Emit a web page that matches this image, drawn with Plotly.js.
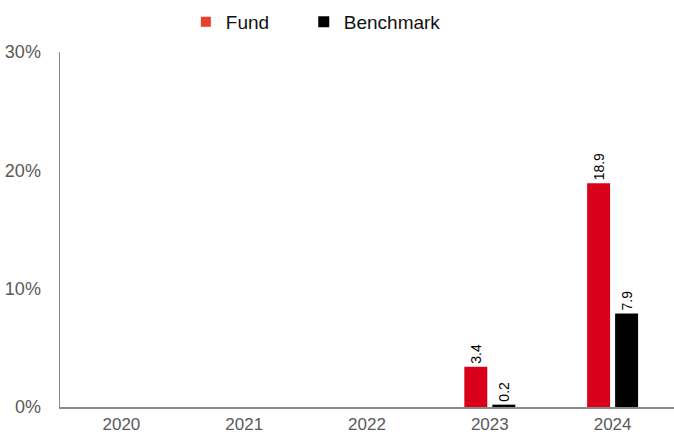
<!DOCTYPE html>
<html><head><meta charset="utf-8">
<script src="https://cdn.plot.ly/plotly-3.0.1.min.js"></script>
<style>body{margin:0;background:#fff}#c{width:674px;height:436px}</style>
</head><body><div id="c"></div>
<script>
const years = ['2020','2021','2022','2023','2024'];
const fund = [null, null, null, 3.4, 18.9];
const benchmark = [null, null, null, 0.2, 7.9];
const fundLabels = ['', '', '', '3.4', '18.9'];
const benchLabels = ['', '', '', '0.2', '7.9'];
const yTickVals = [0, 10, 20, 30];
const yTickText = ['0%', '10%', '20%', '30%'];

const labelFont = {family: 'Liberation Sans, Arial, sans-serif', size: 14, color: '#000'};
const traces = [
  {type: 'bar', x: years, y: fund, text: fundLabels, textposition: 'outside', textangle: -90,
   constraintext: 'none', textfont: labelFont, cliponaxis: false, marker: {color: '#d9001b'},
   showlegend: false, hoverinfo: 'skip'},
  {type: 'bar', x: years, y: benchmark, text: benchLabels, textposition: 'outside', textangle: -90,
   constraintext: 'none', textfont: labelFont, cliponaxis: false, marker: {color: '#000000'},
   showlegend: false, hoverinfo: 'skip'},
  {type: 'scatter', mode: 'markers', x: [null], y: [null], name: 'Fund', legend: 'legend',
   marker: {symbol: 'square', size: 10, color: '#e8402a'}},
  {type: 'scatter', mode: 'markers', x: [null], y: [null], name: 'Benchmark', legend: 'legend2',
   marker: {symbol: 'square', size: 11, color: '#000000'}}
];

const legendFont = {family: 'Liberation Sans, Arial, sans-serif', size: 19, color: '#111'};
const layout = {
  width: 674, height: 436,
  margin: {l: 60, r: 0, t: 52, b: 29, autoexpand: false},
  paper_bgcolor: '#fff', plot_bgcolor: '#fff',
  barmode: 'group', bargap: 0.544, bargroupgap: 0.18,
  showlegend: true,
  legend: {orientation: 'h', x: 0.205, xanchor: 'left', y: 1.085, yanchor: 'middle',
    font: legendFont, bgcolor: 'rgba(0,0,0,0)'},
  legend2: {orientation: 'h', x: 0.397, xanchor: 'left', y: 1.085, yanchor: 'middle',
    font: legendFont, bgcolor: 'rgba(0,0,0,0)'},
  xaxis: {type: 'category', range: [-0.5, 4.5], showgrid: false, zeroline: false,
    showline: true, linecolor: '#898989', linewidth: 1.5, ticks: '',
    ticklabelstandoff: 1,
    tickfont: {family: 'Liberation Sans, Arial, sans-serif', size: 17, color: '#595959'}, fixedrange: true},
  yaxis: {range: [0, 30], tickvals: yTickVals, ticktext: yTickText, showgrid: false, zeroline: false,
    showline: true, linecolor: '#898989', linewidth: 1.5, ticks: '',
    ticklabelstandoff: 14,
    tickfont: {family: 'Liberation Sans, Arial, sans-serif', size: 18, color: '#595959'}, fixedrange: true}
};
Plotly.newPlot('c', traces, layout, {displayModeBar: false, staticPlot: true});
</script></body></html>
